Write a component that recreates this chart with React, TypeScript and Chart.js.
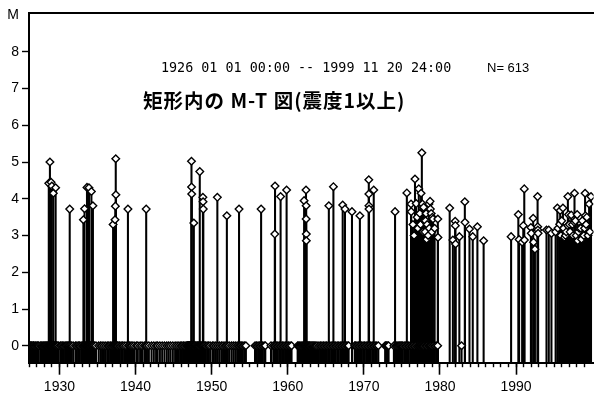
import React, { useEffect, useRef } from 'react';
import { Chart, registerables } from 'chart.js';

Chart.register(...registerables);

// ---- axis ranges & ticks ----
const X_MIN = 1926.0;
const X_MAX = 2000.19;
const Y_MIN = -0.46;
const Y_MAX = 9.056;
const Y_TICKS = [0, 1, 2, 3, 4, 5, 6, 7, 8, 9];
const Y_TOP_LABEL = 'M';
const MAJOR_YEARS = [1930, 1940, 1950, 1960, 1970, 1980, 1990];
const MINOR_YEARS = Array.from({ length: 74 }, (_, i) => 1926 + i);

// ---- texts ----
const PERIOD_TEXT = '1926 01 01 00:00 -- 1999 11 20 24:00';
const COUNT_TEXT = 'N= 613';
const TITLE_TEXT = '矩形内の M-T 図(震度1以上)';

// ---- events with magnitude: [year, M] ----
const EVENTS_1926_1945: [number, number][] = [
  [1928.6, 4.42], [1928.75, 5.0], [1928.9, 4.45], [1929.0, 4.35], [1929.2, 4.15], [1929.5, 4.3],
  [1931.35, 3.72],
  [1933.15, 3.43], [1933.3, 3.73], [1933.62, 4.31], [1933.88, 4.3], [1934.2, 4.2], [1934.4, 3.81],
  [1937.05, 3.3], [1937.3, 3.43], [1937.35, 3.8], [1937.4, 5.09], [1937.42, 4.11],
  [1939.0, 3.72],
  [1941.4, 3.72],
];

const EVENTS_1946_1973: [number, number][] = [
  [1947.35, 5.02], [1947.36, 4.32], [1947.38, 4.13], [1947.66, 3.34], [1948.44, 4.74],
  [1948.85, 4.04], [1948.87, 3.92], [1948.9, 3.72],
  [1950.75, 4.04], [1952.0, 3.54], [1953.6, 3.72], [1956.5, 3.72],
  [1958.3, 3.04], [1958.33, 4.35], [1959.06, 4.06], [1959.85, 4.24],
  [1962.15, 3.95], [1962.4, 4.24], [1962.42, 3.81], [1962.42, 3.45], [1962.44, 3.04], [1962.44, 2.86],
  [1965.4, 3.81], [1966.0, 4.33], [1967.22, 3.83], [1967.52, 3.72], [1968.44, 3.65], [1969.48, 3.54],
  [1970.65, 4.52], [1970.66, 4.13], [1970.67, 3.81], [1970.68, 3.72], [1971.3, 4.24],
];

const EVENTS_1974_1986: [number, number][] = [
  [1974.1, 3.65], [1975.65, 4.16], [1976.2, 3.86], [1976.22, 3.65], [1976.45, 3.3], [1976.6, 3.0],
  [1976.72, 4.54], [1976.88, 3.87], [1977.0, 3.5], [1977.1, 3.2], [1977.22, 4.27], [1977.35, 3.6],
  [1977.45, 3.3], [1977.52, 4.15], [1977.62, 5.25], [1977.7, 3.86], [1977.8, 3.1], [1977.85, 3.77],
  [1977.95, 3.4], [1978.05, 3.1], [1978.1, 3.4], [1978.18, 3.6], [1978.25, 2.9], [1978.32, 3.3],
  [1978.45, 3.0], [1978.55, 3.86], [1978.6, 3.2], [1978.7, 3.93], [1978.74, 3.72], [1978.85, 3.6],
  [1978.95, 3.1], [1979.0, 3.5], [1979.08, 3.45], [1979.3, 3.2], [1979.72, 3.45], [1979.74, 2.95],
  [1981.28, 3.75], [1981.7, 2.88], [1982.0, 3.39], [1982.02, 3.27], [1982.05, 2.77], [1982.55, 2.97],
  [1983.27, 3.92], [1983.29, 3.36], [1983.88, 3.18], [1984.31, 2.97], [1984.92, 3.24], [1985.74, 2.86],
];

const EVENTS_1989_1999: [number, number][] = [
  [1989.35, 2.97], [1990.3, 3.57], [1990.4, 2.89], [1990.8, 2.82], [1990.95, 3.27], [1991.08, 4.27],
  [1991.1, 2.88], [1991.95, 3.22], [1992.0, 3.06], [1992.25, 3.47], [1992.3, 2.82], [1992.48, 2.63],
  [1992.83, 4.06], [1992.85, 3.24], [1992.87, 3.15], [1992.9, 3.06],
  [1994.0, 3.15], [1994.3, 3.15], [1994.65, 3.06],
  [1995.2, 3.1], [1995.43, 3.75], [1995.5, 3.2], [1995.73, 3.31], [1995.8, 3.68], [1995.9, 3.0],
  [1996.0, 3.4], [1996.16, 3.75], [1996.25, 3.2], [1996.38, 2.95], [1996.5, 3.0], [1996.6, 3.1],
  [1996.8, 3.27], [1996.81, 4.06], [1996.9, 3.57], [1997.0, 3.3], [1997.1, 3.1], [1997.25, 3.56],
  [1997.4, 3.3], [1997.5, 3.0], [1997.66, 3.36], [1997.68, 4.15], [1997.8, 3.4], [1997.9, 3.0],
  [1998.03, 3.57], [1998.1, 2.86], [1998.2, 3.1], [1998.3, 3.2], [1998.5, 3.2], [1998.6, 2.9],
  [1998.7, 3.4], [1998.9, 3.0], [1999.0, 3.2], [1999.07, 4.15], [1999.1, 3.54], [1999.2, 3.3],
  [1999.3, 3.5], [1999.45, 3.0], [1999.6, 3.86], [1999.7, 3.1], [1999.85, 4.06],
];

// ---- events without magnitude (plotted at M = 0): years ----
const ZERO_EVENTS_1926_1945 = [
  1926.05, 1926.12, 1926.2, 1926.33, 1926.41, 1926.55, 1926.62, 1926.78, 1926.9,
  1927.05, 1927.15, 1927.28, 1927.5, 1927.66, 1927.82, 1927.95,
  1928.08, 1928.2, 1928.31, 1928.45, 1928.52, 1928.6, 1928.67, 1928.7, 1928.73, 1928.78, 1928.81, 1928.85, 1928.9, 1928.95,
  1929.02, 1929.08, 1929.12, 1929.18, 1929.25, 1929.33, 1929.4, 1929.48, 1929.55, 1929.62, 1929.7, 1929.85,
  1930.1, 1930.22, 1930.4, 1930.58, 1930.75, 1930.9,
  1931.05, 1931.2, 1931.3, 1931.45, 1931.6, 1931.8,
  1932.1, 1932.3, 1932.5, 1932.65, 1932.85,
  1933.05, 1933.15, 1933.25, 1933.35, 1933.45, 1933.55, 1933.6, 1933.7, 1933.75, 1933.8, 1933.88, 1933.95,
  1934.02, 1934.1, 1934.18, 1934.25, 1934.35, 1934.45, 1934.6, 1934.8,
  1935.15, 1935.4, 1935.6, 1935.85,
  1936.1, 1936.35, 1936.5, 1936.7, 1936.9,
  1937.05, 1937.15, 1937.3, 1937.4, 1937.5, 1937.6, 1937.7, 1937.9,
  1938.1, 1938.3, 1938.5, 1938.75,
  1939.05, 1939.2, 1939.4, 1939.55, 1939.8,
  1940.1, 1940.3, 1940.6, 1940.85,
  1941.15, 1941.35, 1941.5, 1941.75,
  1942.1, 1942.4, 1942.7, 1942.9,
  1943.2, 1943.5, 1943.8,
  1944.1, 1944.35, 1944.6, 1944.9,
  1945.2, 1945.45, 1945.7, 1945.95,
];

const ZERO_EVENTS_1946_1982 = [
  1946.1, 1946.3, 1946.5, 1946.7, 1946.8, 1946.85, 1946.9, 1946.93, 1946.96, 1946.99,
  1947.02, 1947.06, 1947.1, 1947.15, 1947.2, 1947.25, 1947.3, 1947.38, 1947.45, 1947.5, 1947.6, 1947.7, 1947.8, 1947.9,
  1948.05, 1948.15, 1948.25, 1948.35, 1948.5, 1948.6, 1948.7, 1948.8, 1948.9,
  1949.05, 1949.2, 1949.4, 1949.6, 1949.8,
  1950.1, 1950.3, 1950.55, 1950.8,
  1951.05, 1951.3, 1951.5, 1951.75, 1951.9,
  1952.1, 1952.3, 1952.6, 1952.85,
  1953.1, 1953.35, 1953.55, 1953.75, 1953.9,
  1954.1, 1954.3, 1954.5,
  1955.7, 1955.9,
  1956.1, 1956.3, 1956.5, 1956.7, 1956.9,
  1957.05, 1957.8,
  1958.1, 1958.3, 1958.5, 1958.7, 1958.9,
  1959.1, 1959.3, 1959.5, 1959.7, 1959.9,
  1960.1, 1960.3, 1960.5,
  1961.3, 1961.45, 1961.6, 1961.75, 1961.9,
  1962.05, 1962.15, 1962.25, 1962.35, 1962.45, 1962.55, 1962.65, 1962.75, 1962.85, 1962.95,
  1963.1, 1963.25, 1963.4, 1963.55, 1963.7, 1963.85,
  1964.1, 1964.3, 1964.5, 1964.7, 1964.9,
  1965.1, 1965.3, 1965.5, 1965.7, 1965.9,
  1966.1, 1966.3, 1966.5, 1966.7, 1966.9,
  1967.1, 1967.3, 1967.5, 1967.7, 1967.9,
  1968.0, 1968.8, 1968.9,
  1969.1, 1969.3, 1969.5, 1969.7, 1969.9,
  1970.1, 1970.3, 1970.5, 1970.7, 1970.9,
  1971.1, 1971.3, 1971.5, 1971.7, 1971.9,
  1972.8, 1972.9,
  1973.0, 1973.15, 1973.25, 1973.95,
  1974.2, 1974.35, 1974.5, 1974.65, 1974.8, 1974.95,
  1975.1, 1975.3, 1975.5, 1975.7, 1975.9,
  1976.1, 1976.3, 1976.5, 1976.7, 1976.9,
  1977.1, 1977.2, 1977.3, 1977.4, 1977.5, 1977.6, 1977.7, 1977.8, 1977.9,
  1978.1, 1978.2, 1978.3, 1978.5, 1978.6, 1978.7, 1978.8, 1978.9,
  1979.1, 1979.3, 1979.5, 1979.7,
  1982.84,
];

const FONT_TICKS = { family: '"Liberation Sans", Arial, sans-serif', size: 14 };

export default function App() {
  const canvasRef = useRef<HTMLCanvasElement>(null);

  useEffect(() => {
    if (!canvasRef.current) return;
    const magEvents = [...EVENTS_1926_1945, ...EVENTS_1946_1973, ...EVENTS_1974_1986, ...EVENTS_1989_1999];
    const zeroEvents: [number, number][] = [...ZERO_EVENTS_1926_1945, ...ZERO_EVENTS_1946_1982].map((x) => [x, 0]);
    const all = [...zeroEvents, ...magEvents];

    const chart = new Chart(canvasRef.current, {
      type: 'bar',
      data: {
        datasets: [
          {
            type: 'bar',
            data: all.map(([x, m]) => ({ x, y: [Y_MIN, m] })) as any,
            backgroundColor: '#000',
            borderWidth: 0,
            barThickness: 1.4,
            grouped: false,
            order: 2,
            xAxisID: 'x',
            yAxisID: 'y',
          } as any,
          {
            type: 'scatter',
            data: all.map(([x, m]) => ({ x, y: m })),
            pointStyle: 'rectRot',
            pointRadius: 3.8,
            pointBackgroundColor: '#fff',
            pointBorderColor: '#000',
            pointBorderWidth: 1.4,
            order: 1,
            xAxisID: 'x',
            yAxisID: 'y',
          } as any,
        ],
      },
      options: {
        animation: false,
        responsive: false,
        events: [],
        layout: { padding: { top: 13, left: 0, right: 0, bottom: 0 } },
        plugins: { legend: { display: false }, tooltip: { enabled: false } },
        scales: {
          x: {
            type: 'linear',
            position: 'bottom',
            weight: 0,
            min: X_MIN,
            max: X_MAX,
            offset: false,
            grid: { display: true, drawOnChartArea: false, drawTicks: true, tickLength: 4.5, tickColor: '#000', tickWidth: 1.4, offset: false },
            border: { display: true, color: '#000', width: 2 },
            ticks: { display: false },
            afterBuildTicks: (s: any) => { s.ticks = MINOR_YEARS.map((v) => ({ value: v })); },
            afterFit: (s: any) => { s.height = 0; },
          },
          xMajor: {
            type: 'linear',
            position: 'bottom',
            weight: 1,
            min: X_MIN,
            max: X_MAX,
            offset: false,
            grid: { display: true, drawOnChartArea: false, drawTicks: true, tickLength: 12, tickColor: '#000', tickWidth: 1.6, offset: false },
            border: { display: false },
            ticks: { display: true, color: '#000', font: FONT_TICKS, padding: 4, maxRotation: 0, autoSkip: false, callback: (v: any) => String(v) },
            afterBuildTicks: (s: any) => { s.ticks = MAJOR_YEARS.map((v) => ({ value: v })); },
            afterFit: (s: any) => { s.height = 36.3; },
          },
          xTop: {
            type: 'linear',
            position: 'top',
            min: X_MIN,
            max: X_MAX,
            grid: { display: false, drawTicks: false },
            border: { display: true, color: '#000', width: 2 },
            ticks: { display: false },
            afterFit: (s: any) => { s.height = 0; },
          },
          y: {
            type: 'linear',
            position: 'left',
            min: Y_MIN,
            max: Y_MAX,
            grid: {
              display: true,
              drawOnChartArea: false,
              drawTicks: true,
              tickLength: 7,
              tickWidth: 1.4,
              tickColor: (ctx: any) => (ctx.tick && ctx.tick.value === 9 ? 'rgba(0,0,0,0)' : '#000'),
            },
            border: { display: true, color: '#000', width: 2 },
            ticks: {
              color: '#000',
              font: FONT_TICKS,
              padding: 3,
              callback: (v: any) => (v === 9 ? Y_TOP_LABEL : String(v)),
            },
            afterBuildTicks: (s: any) => { s.ticks = Y_TICKS.map((v) => ({ value: v })); },
            afterFit: (s: any) => { s.width = 29; },
          },
        },
      } as any,
    });
    return () => chart.destroy();
  }, []);

  return (
    <div style={{ position: 'absolute', left: 0, top: 0, width: 599, height: 399, background: '#fff', overflow: 'hidden' }}>
      <canvas ref={canvasRef} width={599} height={399} style={{ position: 'absolute', left: 0, top: 0, width: 599, height: 399 }} />
      <div style={{ position: 'absolute', left: 161, top: 60.5, fontFamily: '"DejaVu Sans Mono", monospace', fontSize: 13.4, lineHeight: '13.4px', whiteSpace: 'pre', color: '#000' }}>
        {PERIOD_TEXT}
      </div>
      <div style={{ position: 'absolute', left: 487, top: 60.5, fontFamily: '"Liberation Sans", Arial, sans-serif', fontSize: 13, lineHeight: '13.4px', whiteSpace: 'pre', color: '#000' }}>
        {COUNT_TEXT}
      </div>
      <div style={{ position: 'absolute', left: 143, top: 90, fontFamily: '"Noto Sans CJK JP", sans-serif', fontWeight: 700, fontSize: 19.5, lineHeight: '19.5px', letterSpacing: 1, whiteSpace: 'pre', color: '#000' }}>
        {TITLE_TEXT}
      </div>
    </div>
  );
}
